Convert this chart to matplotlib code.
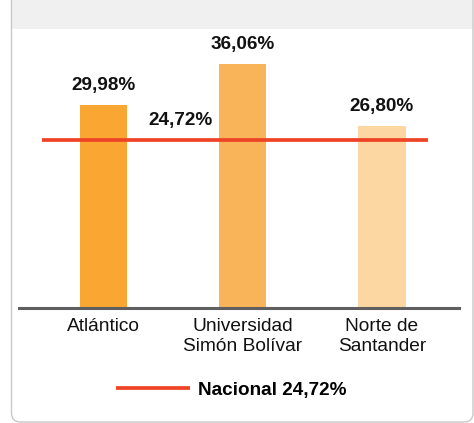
import matplotlib.pyplot as plt
from matplotlib.patches import FancyBboxPatch, Rectangle
from matplotlib.transforms import IdentityTransform

plt.rcParams['font.family'] = ['Liberation Sans', 'DejaVu Sans']

categories = ["Atlántico", "Universidad\nSimón Bolívar", "Norte de\nSantander"]
values = [29.98, 36.06, 26.80]
nacional = 24.72
bar_colors = ["#F9A632", "#F9B45A", "#FDD7A1"]
red = "#EE4426"


def fmt(v):
    return f"{v:.2f}".replace(".", ",") + "%"


W, H = 474, 423
fig = plt.figure(figsize=(W / 100, H / 100), dpi=100)

# card background, header band and border (pixel coords)
px = IdentityTransform()
fig.patches.append(Rectangle((12, H - 29), 461, 40, transform=px,
                             facecolor="#F0F0F0", edgecolor="none", zorder=0))
fig.patches.append(FancyBboxPatch((11.5, 1), 461.5, 460, transform=px,
                                  boxstyle="round,pad=0,rounding_size=9",
                                  facecolor="none", edgecolor="#C8C8C8",
                                  lw=1.0, zorder=1))

ax = fig.add_axes([19 / W, (H - 308) / H, 440 / W, 279 / H])
ax.patch.set_alpha(0)

x = range(len(values))
ax.bar(x, values, width=0.34, color=bar_colors, zorder=2)
ax.hlines(nacional, -0.44, 2.33, color=red, lw=2.7, zorder=3,
          label=f"Nacional {fmt(nacional)}")

for i, v in zip(x, values):
    ax.annotate(fmt(v), (i, v), xytext=(0, 14), textcoords="offset points",
                ha="center", va="center", fontsize=13.6, fontweight="bold",
                color="#111111")
ax.annotate(fmt(nacional), (0.55, nacional), xytext=(0, 14.5),
            textcoords="offset points", ha="center", va="center",
            fontsize=13.6, fontweight="bold", color="#111111")

ax.set_xlim(-0.607, 2.553)
ax.set_ylim(0, 41.15)
ax.set_xticks(list(x))
ax.set_xticklabels(categories, fontsize=13.8, color="#111111",
                   linespacing=1.25)
ax.tick_params(axis="x", length=0, pad=7)
ax.set_yticks([])
for s in ["top", "left", "right"]:
    ax.spines[s].set_visible(False)
ax.spines["bottom"].set_color("#5F5F5F")
ax.spines["bottom"].set_linewidth(2.2)

fig.legend(loc="center", bbox_to_anchor=(231.5 / W, (H - 390) / H),
           frameon=False, handlelength=3.9, handletextpad=0.45,
           borderpad=0, prop={"size": 13.6, "weight": "bold"})

fig.savefig("out.png", dpi=100)
